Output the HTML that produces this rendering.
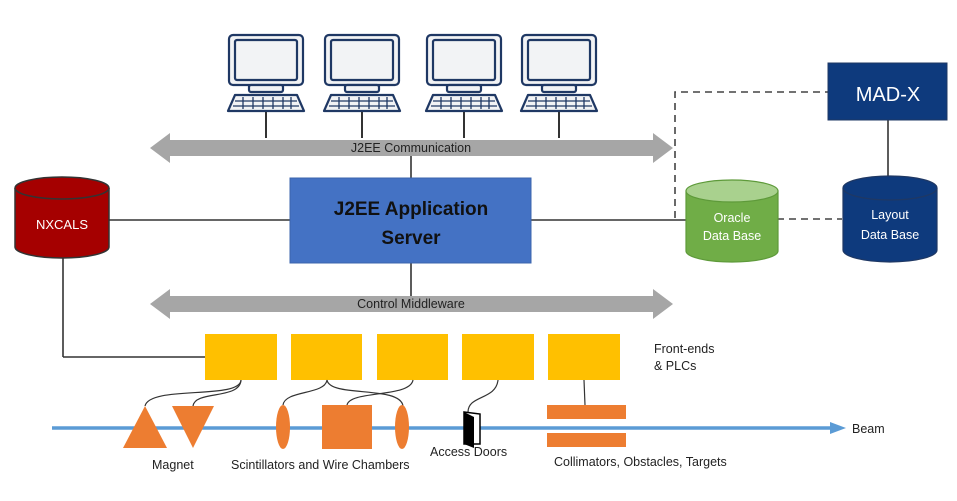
<!DOCTYPE html>
<html><head><meta charset="utf-8"><style>
html,body{margin:0;padding:0;background:#fff;}
svg{display:block;font-family:"Liberation Sans","DejaVu Sans",sans-serif;}
</style></head><body>
<svg width="957" height="501" viewBox="0 0 957 501" xmlns="http://www.w3.org/2000/svg">
<defs>
<g id="pc" fill="#f2f3f5" stroke="#1f3864" stroke-width="2.2">
  <rect x="0" y="0" width="74" height="50" rx="4"/>
  <rect x="6" y="5" width="62" height="40" rx="2"/>
  <rect x="20" y="50" width="34" height="7" rx="2"/>
  <path d="M6 60 H68 L75 76 H-1 Z" stroke-linejoin="round"/>
  <path d="M6 66 H68 M4 71 H70 M14 62 V74 M24 62 V74 M34 62 V74 M44 62 V74 M54 62 V74 M62 62 V74" stroke-width="1.3"/>
</g>
</defs>

<!-- computers -->
<use href="#pc" x="229" y="35"/>
<use href="#pc" x="325" y="35"/>
<use href="#pc" x="427" y="35"/>
<use href="#pc" x="522" y="35"/>
<g stroke="#333" stroke-width="2">
<line x1="266" y1="112" x2="266" y2="138"/>
<line x1="362" y1="112" x2="362" y2="138"/>
<line x1="464" y1="112" x2="464" y2="138"/>
<line x1="559" y1="112" x2="559" y2="138"/>
</g>

<!-- J2EE communication arrow -->
<polygon points="150,148 170,133 170,140 653,140 653,133 673,148 653,163 653,156 170,156 170,163" fill="#a6a6a6"/>
<text x="411" y="152" font-size="12.5" text-anchor="middle" fill="#222">J2EE Communication</text>

<!-- lines -->
<g stroke="#333" stroke-width="1.6" fill="none">
<line x1="411" y1="156" x2="411" y2="178"/>
<line x1="411" y1="262" x2="411" y2="296"/>
<line x1="108" y1="220" x2="290" y2="220"/>
<line x1="531" y1="220" x2="686" y2="220"/>
<line x1="63" y1="255" x2="63" y2="357"/>
<line x1="63" y1="357" x2="205" y2="357"/>
<line x1="888" y1="120" x2="888" y2="180"/>
</g>
<g stroke="#444" stroke-width="1.6" fill="none" stroke-dasharray="7,5">
<polyline points="675,218 675,92 828,92"/>
<line x1="777" y1="219" x2="842" y2="219"/>
</g>

<!-- server -->
<rect x="290" y="178" width="241" height="85" fill="#4472c4" stroke="#3b64ad"/>
<text x="411" y="215" font-size="19" font-weight="bold" text-anchor="middle" fill="#111">J2EE Application</text>
<text x="411" y="244" font-size="19" font-weight="bold" text-anchor="middle" fill="#111">Server</text>

<!-- NXCALS -->
<path d="M15 188 V247 A47 11 0 0 0 109 247 V188" fill="#a50000" stroke="#333" stroke-width="1.5"/>
<ellipse cx="62" cy="188" rx="47" ry="11" fill="#a50000" stroke="#333" stroke-width="1.5"/>
<text x="62" y="229" font-size="13" text-anchor="middle" fill="#fff">NXCALS</text>

<!-- Oracle -->
<path d="M686 191 V251 A46 11 0 0 0 778 251 V191" fill="#70ad47" stroke="#5e9a3a" stroke-width="1.2"/>
<ellipse cx="732" cy="191" rx="46" ry="11" fill="#a9d18e" stroke="#5e9a3a" stroke-width="1.2"/>
<text x="732" y="222" font-size="12.5" text-anchor="middle" fill="#fff">Oracle</text>
<text x="732" y="240" font-size="12.5" text-anchor="middle" fill="#fff">Data Base</text>

<!-- Layout -->
<path d="M843 188 V250 A47 12 0 0 0 937 250 V188" fill="#0e3a7d" stroke="#1f3864" stroke-width="1.2"/>
<ellipse cx="890" cy="188" rx="47" ry="12" fill="#0e3a7d" stroke="#1f3864" stroke-width="1.2"/>
<text x="890" y="219" font-size="12.5" text-anchor="middle" fill="#fff">Layout</text>
<text x="890" y="239" font-size="12.5" text-anchor="middle" fill="#fff">Data Base</text>

<!-- MAD-X -->
<rect x="828" y="63" width="119" height="57" fill="#0e3a7d" stroke="#1f3864"/>
<text x="888" y="101" font-size="20" text-anchor="middle" fill="#fff">MAD-X</text>

<!-- Control middleware arrow -->
<polygon points="150,304 170,289 170,296 653,296 653,289 673,304 653,319 653,312 170,312 170,319" fill="#a6a6a6"/>
<text x="411" y="308" font-size="12.5" text-anchor="middle" fill="#222">Control Middleware</text>

<!-- front ends -->
<g fill="#ffc000">
<rect x="205" y="334" width="72" height="46"/>
<rect x="291" y="334" width="71" height="46"/>
<rect x="377" y="334" width="71" height="46"/>
<rect x="462" y="334" width="72" height="46"/>
<rect x="548" y="334" width="72" height="46"/>
</g>
<text x="654" y="353" font-size="12.5" fill="#222">Front-ends</text>
<text x="654" y="370" font-size="12.5" fill="#222">&amp; PLCs</text>

<!-- beam -->
<line x1="52" y1="428" x2="832" y2="428" stroke="#5b9bd5" stroke-width="3.5"/>
<polygon points="830,422 846,428 830,434" fill="#5b9bd5"/>
<text x="852" y="433" font-size="12.5" fill="#222">Beam</text>

<!-- connectors -->
<g stroke="#333" stroke-width="1.2" fill="none">
<path d="M241 380 C240 400 150 385 145 406"/>
<path d="M241 380 C240 400 195 390 193 406"/>
<path d="M327 380 C325 395 285 390 283 405"/>
<path d="M327 380 C330 398 400 385 403 406"/>
<path d="M413 380 C410 398 350 390 347 405"/>
<path d="M498 380 C496 400 468 395 468 412"/>
<path d="M584 380 L585 405"/>
</g>

<!-- devices -->
<g fill="#ed7d31">
<polygon points="145,406 123,448 167,448"/>
<polygon points="172,406 214,406 193,448"/>
<ellipse cx="283" cy="427" rx="7" ry="22"/>
<rect x="322" y="405" width="50" height="44"/>
<ellipse cx="402" cy="427" rx="7" ry="22"/>
<rect x="547" y="405" width="79" height="14"/>
<rect x="547" y="433" width="79" height="14"/>
</g>
<rect x="464" y="412" width="6" height="32" fill="#000"/>
<path d="M464 412 L480 414 V444 L464 444 Z" fill="#fff" stroke="#000" stroke-width="1.5"/>
<path d="M464 412 L474 417 V448 L464 444 Z" fill="#000"/>

<g font-size="12.5" fill="#222">
<text x="152" y="469">Magnet</text>
<text x="231" y="469">Scintillators and Wire Chambers</text>
<text x="430" y="456">Access Doors</text>
<text x="554" y="466">Collimators, Obstacles, Targets</text>
</g>
</svg>
</body></html>
